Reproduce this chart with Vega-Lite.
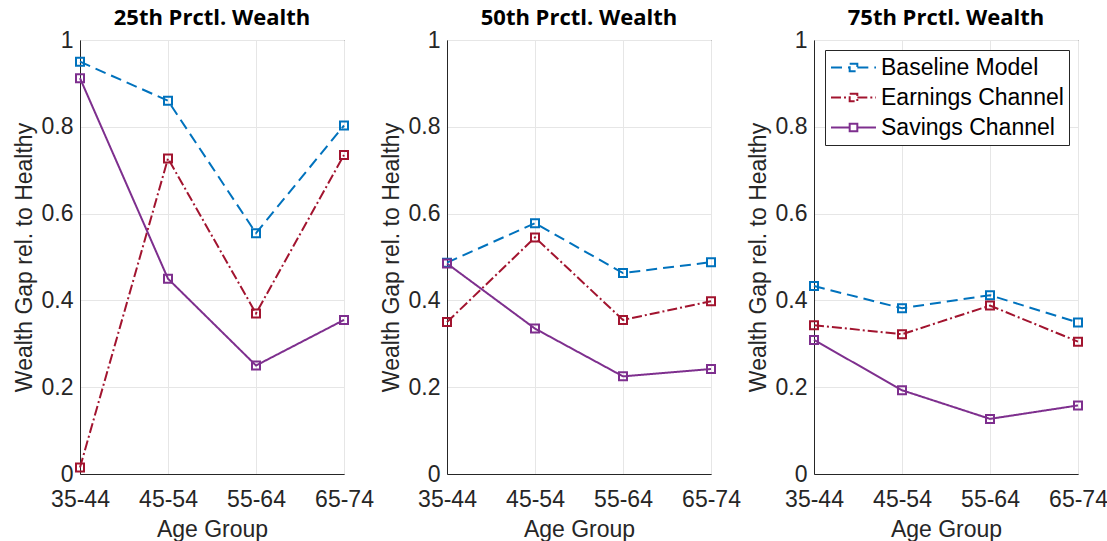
{
  "$schema": "https://vega.github.io/schema/vega-lite/v6.json",
  "background": "white",
  "padding": {"left": 12, "top": 6, "right": 0, "bottom": 0},
  "bounds": "flush",
  "datasets": {
    "gap": [
      {"pct": "25th", "age": "35-44", "series": "Baseline Model", "value": 0.950},
      {"pct": "25th", "age": "45-54", "series": "Baseline Model", "value": 0.860},
      {"pct": "25th", "age": "55-64", "series": "Baseline Model", "value": 0.555},
      {"pct": "25th", "age": "65-74", "series": "Baseline Model", "value": 0.803},
      {"pct": "25th", "age": "35-44", "series": "Earnings Channel", "value": 0.015},
      {"pct": "25th", "age": "45-54", "series": "Earnings Channel", "value": 0.727},
      {"pct": "25th", "age": "55-64", "series": "Earnings Channel", "value": 0.370},
      {"pct": "25th", "age": "65-74", "series": "Earnings Channel", "value": 0.735},
      {"pct": "25th", "age": "35-44", "series": "Savings Channel", "value": 0.912},
      {"pct": "25th", "age": "45-54", "series": "Savings Channel", "value": 0.450},
      {"pct": "25th", "age": "55-64", "series": "Savings Channel", "value": 0.250},
      {"pct": "25th", "age": "65-74", "series": "Savings Channel", "value": 0.355},
      {"pct": "50th", "age": "35-44", "series": "Baseline Model", "value": 0.487},
      {"pct": "50th", "age": "45-54", "series": "Baseline Model", "value": 0.578},
      {"pct": "50th", "age": "55-64", "series": "Baseline Model", "value": 0.463},
      {"pct": "50th", "age": "65-74", "series": "Baseline Model", "value": 0.488},
      {"pct": "50th", "age": "35-44", "series": "Earnings Channel", "value": 0.350},
      {"pct": "50th", "age": "45-54", "series": "Earnings Channel", "value": 0.545},
      {"pct": "50th", "age": "55-64", "series": "Earnings Channel", "value": 0.355},
      {"pct": "50th", "age": "65-74", "series": "Earnings Channel", "value": 0.398},
      {"pct": "50th", "age": "35-44", "series": "Savings Channel", "value": 0.485},
      {"pct": "50th", "age": "45-54", "series": "Savings Channel", "value": 0.335},
      {"pct": "50th", "age": "55-64", "series": "Savings Channel", "value": 0.225},
      {"pct": "50th", "age": "65-74", "series": "Savings Channel", "value": 0.242},
      {"pct": "75th", "age": "35-44", "series": "Baseline Model", "value": 0.433},
      {"pct": "75th", "age": "45-54", "series": "Baseline Model", "value": 0.382},
      {"pct": "75th", "age": "55-64", "series": "Baseline Model", "value": 0.412},
      {"pct": "75th", "age": "65-74", "series": "Baseline Model", "value": 0.349},
      {"pct": "75th", "age": "35-44", "series": "Earnings Channel", "value": 0.343},
      {"pct": "75th", "age": "45-54", "series": "Earnings Channel", "value": 0.322},
      {"pct": "75th", "age": "55-64", "series": "Earnings Channel", "value": 0.388},
      {"pct": "75th", "age": "65-74", "series": "Earnings Channel", "value": 0.305},
      {"pct": "75th", "age": "35-44", "series": "Savings Channel", "value": 0.309},
      {"pct": "75th", "age": "45-54", "series": "Savings Channel", "value": 0.193},
      {"pct": "75th", "age": "55-64", "series": "Savings Channel", "value": 0.127},
      {"pct": "75th", "age": "65-74", "series": "Savings Channel", "value": 0.158}
    ]
  },
  "data": {"name": "gap"},
  "config": {
    "font": "Liberation Sans",
    "view": {"stroke": "#262626", "strokeWidth": 1},
    "title": {"font": "Open Sans", "fontSize": 22, "fontWeight": "bold", "color": "#000000", "offset": -1},
    "axis": {
      "labelFontSize": 23,
      "titleFontSize": 23,
      "titleFontWeight": "normal",
      "labelColor": "#262626",
      "titleColor": "#262626",
      "domainColor": "#262626",
      "gridColor": "#e6e6e6",
      "gridWidth": 1,
      "ticks": false
    },
    "axisX": {"labelPadding": 14, "titlePadding": 7},
    "axisY": {"labelPadding": 7, "titlePadding": 5},
    "line": {"strokeWidth": 2},
    "point": {"shape": "square", "filled": false, "size": 64, "strokeWidth": 2, "opacity": 1},
    "legend": {
      "labelFontSize": 23,
      "labelColor": "#000000",
      "labelLimit": 0,
      "symbolType": "M-2,0H-0.34M0.34,0H2M-0.34,-0.34H0.34V0.34H-0.34Z",
      "symbolSize": 506,
      "symbolStrokeWidth": 2,
      "symbolFillColor": "transparent",
      "symbolOffset": 11,
      "labelOffset": 15,
      "padding": 5,
      "rowPadding": 5,
      "fillColor": "white",
      "strokeColor": "#262626"
    }
  },
  "spacing": 103,
  "hconcat": [
    {
      "title": "25th Prctl. Wealth",
      "width": 264,
      "height": 434,
      "transform": [{"filter": "datum.pct === '25th'"}],
      "encoding": {
        "x": {"field": "age", "type": "ordinal", "scale": {"type": "point", "padding": 0}, "axis": {"title": "Age Group", "labelAngle": 0, "grid": true}},
        "y": {"field": "value", "type": "quantitative", "scale": {"domain": [0, 1], "nice": false}, "axis": {"title": "Wealth Gap rel. to Healthy", "values": [0, 0.2, 0.4, 0.6, 0.8, 1], "format": "~g"}},
        "color": {"field": "series", "type": "nominal", "scale": {"domain": ["Baseline Model", "Earnings Channel", "Savings Channel"], "range": ["#0072BD", "#A2142F", "#7E2F8E"]}, "legend": null}
      },
      "layer": [
        {
          "mark": {"type": "line"},
          "encoding": {
            "strokeDash": {"field": "series", "type": "nominal", "scale": {"domain": ["Baseline Model", "Earnings Channel", "Savings Channel"], "range": [[11, 6], [10, 3, 2, 3], [1, 0]]}, "legend": null}
          }
        },
        {"mark": {"type": "point"}}
      ]
    },
    {
      "title": "50th Prctl. Wealth",
      "width": 264,
      "height": 434,
      "transform": [{"filter": "datum.pct === '50th'"}],
      "encoding": {
        "x": {"field": "age", "type": "ordinal", "scale": {"type": "point", "padding": 0}, "axis": {"title": "Age Group", "labelAngle": 0, "grid": true}},
        "y": {"field": "value", "type": "quantitative", "scale": {"domain": [0, 1], "nice": false}, "axis": {"title": "Wealth Gap rel. to Healthy", "values": [0, 0.2, 0.4, 0.6, 0.8, 1], "format": "~g"}},
        "color": {"field": "series", "type": "nominal", "scale": {"domain": ["Baseline Model", "Earnings Channel", "Savings Channel"], "range": ["#0072BD", "#A2142F", "#7E2F8E"]}, "legend": null}
      },
      "layer": [
        {
          "mark": {"type": "line"},
          "encoding": {
            "strokeDash": {"field": "series", "type": "nominal", "scale": {"domain": ["Baseline Model", "Earnings Channel", "Savings Channel"], "range": [[11, 6], [10, 3, 2, 3], [1, 0]]}, "legend": null}
          }
        },
        {"mark": {"type": "point"}}
      ]
    },
    {
      "title": "75th Prctl. Wealth",
      "width": 264,
      "height": 434,
      "transform": [{"filter": "datum.pct === '75th'"}],
      "encoding": {
        "x": {"field": "age", "type": "ordinal", "scale": {"type": "point", "padding": 0}, "axis": {"title": "Age Group", "labelAngle": 0, "grid": true}},
        "y": {"field": "value", "type": "quantitative", "scale": {"domain": [0, 1], "nice": false}, "axis": {"title": "Wealth Gap rel. to Healthy", "values": [0, 0.2, 0.4, 0.6, 0.8, 1], "format": "~g"}},
        "color": {"field": "series", "type": "nominal", "scale": {"domain": ["Baseline Model", "Earnings Channel", "Savings Channel"], "range": ["#0072BD", "#A2142F", "#7E2F8E"]}, "legend": {"title": null, "orient": "none", "legendX": 11, "legendY": 10}}
      },
      "layer": [
        {
          "mark": {"type": "line"},
          "encoding": {
            "strokeDash": {"field": "series", "type": "nominal", "scale": {"domain": ["Baseline Model", "Earnings Channel", "Savings Channel"], "range": [[11, 6], [10, 3, 2, 3], [1, 0]]}, "legend": {"title": null, "orient": "none", "legendX": 11, "legendY": 10}}
          }
        },
        {"mark": {"type": "point"}}
      ]
    }
  ],
  "resolve": {"legend": {"color": "independent", "strokeDash": "independent"}}
}
